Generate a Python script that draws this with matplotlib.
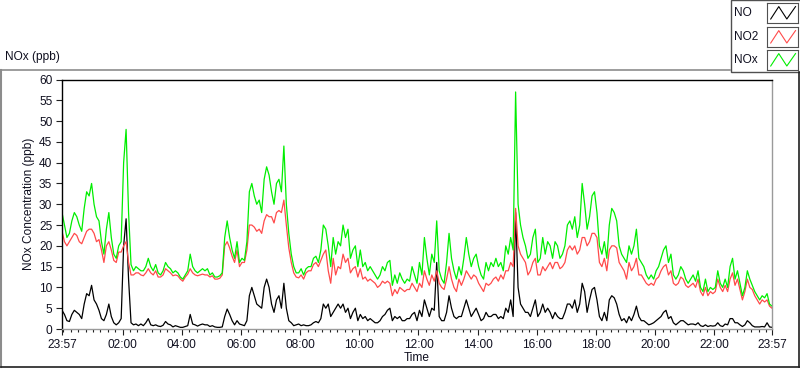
import numpy as np
import matplotlib
matplotlib.use("Agg")
import matplotlib.pyplot as plt
from matplotlib.lines import Line2D
from matplotlib.patches import Rectangle

# ---------------- data (5-minute samples starting 23:57) ----------------
sample_minutes = 5
NO = [4.5, 3.5, 2, 1.8, 3.5, 4.5, 4, 3.5, 2.5, 6,
      8.5, 8, 10.5, 7, 6, 4.5, 2.5, 2, 3.5, 6,
      3, 1.5, 1, 1.5, 2.5, 20, 26.5, 12, 1.5, 1,
      1.2, 0.8, 1.2, 0.8, 1.5, 2.5, 1, 0.8, 1, 0.7,
      0.6, 0.9, 1.8, 1.2, 1, 0.5, 0.8, 0.6, 0.4, 0.4,
      0.6, 0.8, 3.5, 1.2, 1, 0.7, 1, 1.2, 1, 1,
      0.6, 0.8, 0.5, 0.4, 0.4, 0.5, 3, 4.8, 3.5, 2,
      1, 2, 1.2, 1, 0.8, 2, 8, 10, 8, 6,
      5.5, 5, 10, 12, 10, 6, 4, 7, 8, 5,
      11, 5, 2, 1.5, 0.8, 1, 1.2, 0.8, 1, 0.8,
      0.8, 1, 1.5, 1.8, 1.5, 2.5, 6, 5, 6, 3,
      4, 5, 6, 5, 6, 4, 5, 2.5, 4, 5,
      2, 3.5, 2.5, 3, 2, 2.5, 2, 1.5, 1.5, 2,
      3, 3.5, 4.5, 5, 2, 3, 2.5, 3, 2, 2,
      2.5, 2.5, 3.5, 4, 2, 4.5, 3, 7, 5, 3,
      5, 4.5, 16, 3, 2, 2, 4, 8, 5, 3,
      2.5, 3, 3, 5, 7, 5, 3, 4, 5, 3.5,
      2, 2.5, 4, 3, 3, 3.5, 3.5, 2.5, 3, 2.5,
      5, 4, 7, 3, 28, 10, 6, 5, 4, 4,
      3, 5, 7, 3, 4, 6, 4, 5, 4, 2.5,
      4, 3, 2.5, 2.5, 4, 6, 6, 5, 7, 4,
      6, 11, 9, 4, 7, 9.5, 10, 7, 3, 2,
      4, 2, 7, 8, 7.5, 6, 3.5, 2, 2.5, 1.5,
      3, 2, 3.5, 5.5, 3, 2, 2, 1.5, 1, 1.2,
      1.5, 2, 2.5, 3, 4, 4.5, 2.5, 3, 1.5, 1,
      1.5, 2, 2, 1.5, 1, 1.2, 1.2, 1, 1.5, 0.8,
      0.6, 1, 0.6, 0.8, 0.7, 0.8, 1.5, 0.8, 0.6, 1.2,
      1, 2.5, 2.5, 1.5, 1.5, 1, 0.6, 1, 2, 1.5,
      0.8, 0.5, 0.5, 0.5, 0.6, 0.5, 1.5, 0.5, 0.4]

NO2 = [23.5, 21, 20, 21, 22, 23, 22.5, 21, 20.5, 22,
       23.5, 24, 24, 23, 21, 21.5, 19, 16, 20, 21,
       19, 16.5, 16, 18.5, 18.5, 20, 21, 16, 13, 13,
       13.5, 13.5, 13, 12.8, 13.5, 14.5, 13.5, 13, 14, 12.5,
       12.5, 13, 14.5, 14, 13.5, 12.8, 13, 12.8, 12, 11.5,
       12.5, 13.2, 14.5, 13.5, 13, 12.8, 13, 13.2, 13, 13,
       12.5, 12.8, 12, 12, 12.2, 13, 20, 21, 19.5, 17.5,
       16, 19, 15, 16, 16, 19, 25, 25, 24.5, 23.5,
       24, 23, 26, 27.5, 27, 27, 25.5, 28, 28.5, 28,
       31, 25, 19.5, 16, 13.5, 12.5, 12.3, 13, 12, 13.5,
       14, 14, 15.5, 16, 15, 16.5, 18, 19, 14, 11,
       17, 13, 15, 14.5, 18, 16, 17, 13.5, 14.5, 15,
       12.5, 14.5, 12, 12.5, 11.5, 12, 11.5, 11, 10, 10.5,
       11.5, 11, 11.5, 11, 8, 9.5, 8.5, 10, 9.5, 9,
       9.5, 9.5, 11, 10, 9, 11, 10, 14, 12, 10.5,
       13, 11.5, 14, 11, 10, 9.5, 12, 15, 12, 10,
       9, 12, 10.5, 12, 14, 13, 12, 13, 12.5, 11,
       10, 9, 11, 10.5, 11, 12, 12.5, 11.5, 13, 12,
       14, 14, 16, 15, 29, 20, 18, 17, 16, 13,
       14, 16, 17, 13, 13, 15, 14, 15, 16, 14.5,
       16, 16, 14.5, 15, 16, 19, 20, 19, 20, 18,
       19, 22, 22, 20, 21, 23, 23, 22, 16, 15,
       17, 14, 19, 20, 20, 19.5, 16, 15, 14, 12,
       16, 14, 15, 17, 13, 13, 12, 11, 10.5, 11,
       10.5, 12, 12.5, 14, 15, 15.5, 13, 14, 11, 10.5,
       11, 12.5, 12, 10.5, 10, 10.5, 11, 10, 12, 9,
       8, 10, 8, 9, 8.5, 9, 12, 10, 9, 10.5,
       9, 12, 13.5, 10.5, 12, 9.5, 7, 9, 12, 10,
       9.5, 8, 7, 6, 7, 6.5, 7, 5.5, 5]

NOx = [28, 25, 22, 23, 26, 28, 27, 25, 23.5, 29,
       33, 32, 35, 30, 27, 26, 21, 18, 24, 28,
       22, 18, 17, 20, 21, 40, 48, 28, 15.5, 14,
       15, 14.5, 14, 14, 15, 17, 15, 14, 15.5, 13.5,
       13, 14, 16, 15, 14.5, 13.5, 14, 13.5, 12.5, 12,
       13, 14, 18, 15, 14, 13.5, 14, 14.5, 14, 14.5,
       13, 13.5, 12.5, 12.5, 12.8, 13.5, 22, 26, 22, 19,
       17, 21, 16, 17, 16.5, 21, 33, 35, 32, 30,
       31, 28, 36, 39, 37, 33, 30, 35, 36, 33,
       44, 30, 23, 18, 15, 13.5, 13.5, 14.5, 13, 14.5,
       15, 15, 17, 17.5, 16, 19, 25, 24, 20, 15,
       22, 18, 21, 20, 25, 22, 24, 17, 19, 20,
       15, 19, 15, 16, 14, 15, 14, 13, 12, 13,
       15, 14, 16, 16.5, 10.5, 13, 11, 13.5, 12, 11,
       12, 11.5, 15, 13, 11, 16, 13, 22, 17, 13,
       18, 16, 26, 14, 12, 11, 16, 23, 17, 14,
       12, 15, 13, 17, 22, 18, 15, 17, 18, 15,
       13, 12, 16, 14, 16, 15, 17, 15, 16, 14,
       20, 18, 22, 19, 57, 30, 25, 22, 20, 17,
       18, 22, 24, 16, 17, 22, 18, 21, 20, 17,
       21, 20, 17, 18, 20, 25, 26, 24, 27, 22,
       25, 35, 30, 24, 27, 32, 33, 28, 20, 18,
       21, 17, 25, 29, 28, 26, 20, 18, 17, 16,
       20, 18, 20, 24, 17, 16, 15, 13, 12, 13,
       12, 14, 15, 17, 19, 20, 16, 18, 13, 12,
       13, 15, 14, 12, 11, 12, 13, 11.5, 14, 10,
       9, 12, 9, 10, 9.5, 10, 14, 11, 10, 12,
       10, 15, 17, 12, 14, 11, 8, 10, 14, 12,
       10.5, 9, 8, 7, 8, 7.5, 8.5, 6, 5.5]

series_names = ["NO", "NO2", "NOx"]
x_tick_labels = ["23:57", "02:00", "04:00", "06:00", "08:00", "10:00", "12:00",
                 "14:00", "16:00", "18:00", "20:00", "22:00", "23:57"]
y_ticks = list(range(0, 61, 5))

# ---------------- figure ----------------
W, H = 800, 369
fig = plt.figure(figsize=(W / 100, H / 100), dpi=100)
fig.patch.set_facecolor("white")
FONT = "Liberation Sans"
FS = 8.6
TXT = "#101020"

def fx(px):
    return px / W

def fy(py):
    return 1 - py / H

# outer frame (3D-ish panel border)
fig.add_artist(Line2D([fx(0.5), fx(730)], [fy(69.5), fy(69.5)], color="#8c8c8c", lw=1.2))
fig.add_artist(Line2D([fx(0.8), fx(0.8)], [fy(69.5), fy(367)], color="#8c8c8c", lw=1.5))
fig.add_artist(Line2D([fx(0.5), fx(799.5)], [fy(367.3), fy(367.3)], color="#202020", lw=1.2))
fig.add_artist(Line2D([fx(799.3), fx(799.3)], [fy(72), fy(367.3)], color="#202020", lw=1.2))

fig.text(fx(5), fy(57), "NOx (ppb)", fontsize=FS, family=FONT, color=TXT, va="center", ha="left")

# axes
ax_l, ax_r, ax_t, ax_b = 62, 772, 79.5, 329
ax = fig.add_axes([fx(ax_l), fy(ax_b), fx(ax_r - ax_l), (ax_b - ax_t) / H])
ax.set_facecolor("white")

t = np.arange(len(NO)) * sample_minutes / 60.0
ax.plot(t, NO, color="#000000", lw=0.9)
ax.plot(t, NO2, color="#ff4a4a", lw=0.9)
ax.plot(t, NOx, color="#00ee00", lw=0.9)

ax.set_xlim(0, 24)
ax.set_ylim(0, 60)
ax.set_yticks(y_ticks)
ax.set_yticklabels([str(v) for v in y_ticks], fontsize=FS, family=FONT, color=TXT)

offset = 3 / 60.0  # 23:57 -> 00:00
major = [0] + [offset + 2 * k for k in range(1, 12)] + [24]
ax.set_xticks(major)
ax.set_xticklabels(x_tick_labels, fontsize=FS, family=FONT, color=TXT)
ax.set_xticks([offset + 0.25 * k for k in range(0, 96)], minor=True)
ax.tick_params(axis="both", which="major", direction="out", length=4, width=0.8, color="#202020", pad=3)
ax.tick_params(axis="x", which="minor", direction="out", length=2.5, width=0.8, color="#202020")

for s in ("left", "top"):
    ax.spines[s].set_color("#000000")
    ax.spines[s].set_linewidth(1.0)
for s in ("right", "bottom"):
    ax.spines[s].set_color("#9a9a9a")
    ax.spines[s].set_linewidth(1.0)

ax.set_ylabel("NOx Concentration (ppb)", fontsize=FS, family=FONT, color=TXT, labelpad=3)
ax.set_xlabel("Time", fontsize=FS, family=FONT, color=TXT, labelpad=1)

# legend panel
fig.add_artist(Rectangle((fx(730.5), fy(72)), fx(80), (72) / H, transform=fig.transFigure,
                         facecolor="white", edgecolor="#505050", lw=1.0, zorder=-5))
colors = ["#000000", "#ff4a4a", "#00ee00"]
rows = [(3, 23), (27, 47), (50, 70)]
for name, col, (y0, y1) in zip(series_names, colors, rows):
    fig.text(fx(734), fy((y0 + y1) / 2), name, fontsize=FS, family=FONT, color=TXT,
             va="center", ha="left")
    sax = fig.add_axes([fx(767), fy(y1), fx(31), (y1 - y0) / H])
    sax.set_zorder(5)
    sax.set_xlim(0, 1)
    sax.set_ylim(0, 1)
    sax.set_xticks([])
    sax.set_yticks([])
    for s in sax.spines.values():
        s.set_color("#505050")
        s.set_linewidth(0.8)
    sax.plot([0.12, 0.38, 0.64, 0.92], [0.2, 0.82, 0.2, 0.82], color=col, lw=0.8)

fig.savefig("out.png", dpi=100)
